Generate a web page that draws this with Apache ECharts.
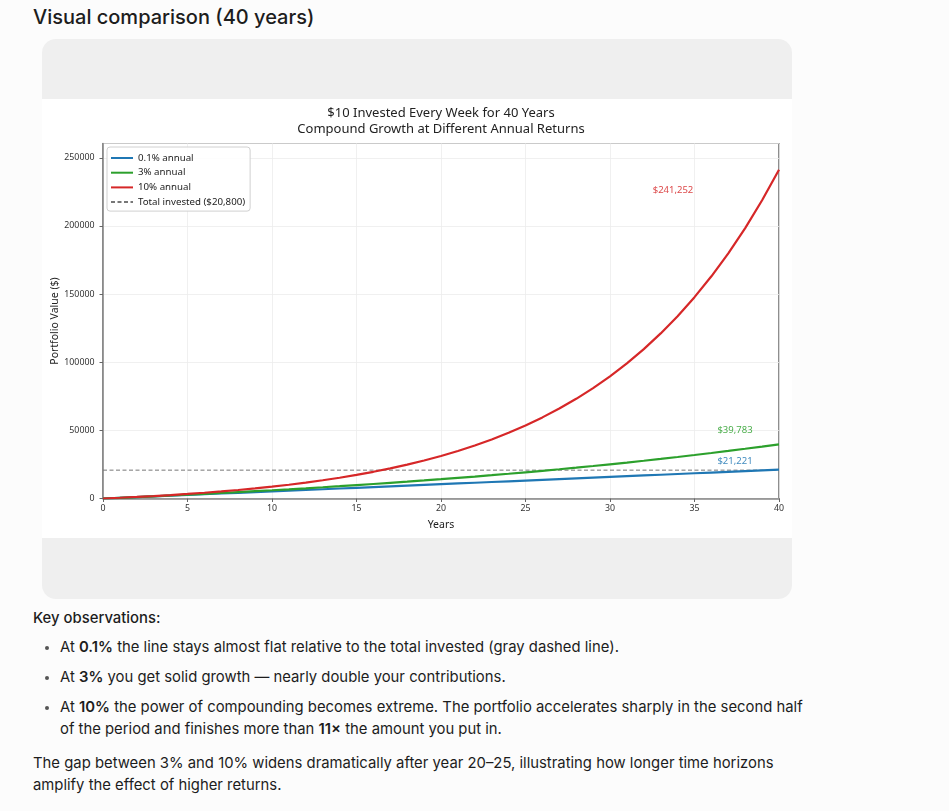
<!DOCTYPE html>
<html>
<head>
<meta charset="utf-8">
<title>Visual comparison (40 years)</title>
<script src="https://cdn.jsdelivr.net/npm/echarts@6/dist/echarts.min.js"></script>
<style>
	html, body { margin: 0; padding: 0; background: #fcfcfc; }
	body { width: 949px; height: 811px; position: relative; font-family: Inter, "Noto Sans", sans-serif; color: #1d1d1d; overflow: hidden; }
	h2 { position: absolute; left: 33px; top: 4px; margin: 0; font-size: 20px; font-weight: 500; line-height: 26px; }
	.card { position: absolute; left: 42px; top: 39px; width: 750px; height: 560px; background: #efefef; border-radius: 14px; }
	#chart { position: absolute; left: 42px; top: 99px; width: 750px; height: 439px; background: #fff; }
	.notes { position: absolute; left: 33px; top: 607px; width: 780px; font-size: 14.85px; line-height: 22px; }
	.notes p { margin: 0; }
	.notes .head { font-weight: 500; }
	.notes ul { margin: 7px 0 0 0; padding: 0 0 0 27px; }
	.notes li { margin: 0 0 8px 0; padding-left: 0; }
	.notes li::marker { color: #555; font-size: 13px; }
	.notes b { font-weight: 600; }
	.notes .tail { margin-top: 12px; }
</style>
</head>
<body>
<h2>Visual comparison (40 years)</h2>
<div class="card"></div>
<div id="chart"></div>
<div class="notes">
	<p class="head">Key observations:</p>
	<ul>
		<li>At <b>0.1%</b> the line stays almost flat relative to the total invested (gray dashed line).</li>
		<li>At <b>3%</b> you get solid growth — nearly double your contributions.</li>
		<li>At <b>10%</b> the power of compounding becomes extreme. The portfolio accelerates sharply in the second half of the period and finishes more than <b>11×</b> the amount you put in.</li>
	</ul>
	<p class="tail">The gap between 3% and 10% widens dramatically after year 20–25, illustrating how longer time horizons amplify the effect of higher returns.</p>
</div>
<script type="text/javascript">
	// years 0..40, portfolio value (end of each year)
	var years = [0, 1, 2, 3, 4, 5, 6, 7, 8, 9, 10, 11, 12, 13, 14, 15, 16, 17, 18, 19, 20,
		21, 22, 23, 24, 25, 26, 27, 28, 29, 30, 31, 32, 33, 34, 35, 36, 37, 38, 39, 40];
	var value01 = [0, 520, 1041, 1562, 2084, 2607, 3129, 3653, 4177, 4701, 5226, 5752, 6277, 6804, 7331, 7859,
		8386, 8915, 9444, 9974, 10504, 11034, 11566, 12098, 12630, 13163, 13696, 14230, 14764, 15299, 15834,
		16370, 16906, 17443, 17981, 18518, 19057, 19596, 20136, 20675, 21221];
	var value3 = [0, 528, 1071, 1631, 2207, 2801, 3413, 4043, 4692, 5360, 6048, 6758, 7488, 8240, 9015, 9813,
		10635, 11482, 12354, 13252, 14177, 15130, 16112, 17122, 18164, 19236, 20341, 21479, 22651, 23858, 25101,
		26382, 27701, 29060, 30459, 31900, 33385, 34914, 36489, 38111, 39783];
	var value10 = [0, 545, 1145, 1804, 2530, 3328, 4206, 5171, 6234, 7402, 8687, 10101, 11656, 13367, 15249, 17319,
		19595, 22100, 24855, 27886, 31219, 34887, 38920, 43357, 48238, 53607, 59513, 66009, 73155, 81016, 89663,
		99173, 109636, 121145, 133805, 147731, 163048, 179898, 198433, 218821, 241252];
	var investedYears = [0, 40];
	var investedValue = [20800, 20800];
	var seriesNames = ['0.1% annual', '3% annual', '10% annual', 'Total invested ($20,800)'];
	var endLabels = ['$21,221', '$39,783', '$241,252'];

	function pairs(xs, ys) {
		var out = [];
		for (var i = 0; i < xs.length; i++) out.push([xs[i], ys[i]]);
		return out;
	}

	var chartFont = '"Noto Sans", "Open Sans", sans-serif';

	function growthSeries(name, values, color, label, offset) {
		return {
			name: name,
			type: 'line',
			data: pairs(years, values),
			symbol: 'none',
			smooth: false,
			lineStyle: { color: color, width: 2.2 },
			itemStyle: { color: color },
			z: 3,
			markPoint: {
				symbol: 'circle',
				symbolSize: 0,
				silent: true,
				data: [{
					coord: [years[years.length - 1], values[values.length - 1]],
					label: {
						show: true,
						formatter: label,
						offset: offset,
						color: color,
						opacity: 0.85,
						fontSize: 9.5,
						fontFamily: chartFont
					}
				}]
			}
		};
	}

	var option = {
		animation: false,
		backgroundColor: '#fff',
		textStyle: { fontFamily: chartFont },
		title: {
			text: '$10 Invested Every Week for 40 Years\nCompound Growth at Different Annual Returns',
			left: 399,
			textAlign: 'center',
			top: 6,
			padding: 0,
			textStyle: { fontSize: 13, fontWeight: 'normal', color: '#222', lineHeight: 16, fontFamily: chartFont }
		},
		legend: {
			data: seriesNames,
			orient: 'vertical',
			left: 65,
			top: 48,
			itemWidth: 22,
			itemHeight: 10,
			itemGap: 4.7,
			padding: [6, 5, 4, 3],
			backgroundColor: 'rgba(255,255,255,0.85)',
			borderColor: '#d0d0d0',
			borderWidth: 1,
			borderRadius: 3,
			itemStyle: { color: 'rgba(0,0,0,0)', borderWidth: 0, opacity: 0 },
			textStyle: { fontSize: 9.7, lineHeight: 10, color: '#222', fontFamily: chartFont }
		},
		grid: {
			left: 61,
			right: 13,
			top: 44.5,
			bottom: 39.5,
			containLabel: false,
			outerBoundsMode: 'none',
			show: true,
			borderColor: '#444',
			borderWidth: 1.2
		},
		xAxis: {
			type: 'value',
			min: 0,
			max: 40,
			interval: 5,
			name: 'Years',
			nameLocation: 'middle',
			nameGap: 21,
			nameMoveOverlap: false,
			nameTextStyle: { fontSize: 10.5, color: '#222' },
			axisLine: { show: true, lineStyle: { color: '#888', width: 1.5 } },
			axisTick: { show: true, length: 3.5, lineStyle: { color: '#666' } },
			axisLabel: { fontSize: 8.8, color: '#333', margin: 5.5 },
			splitLine: { show: true, lineStyle: { color: '#ececec', width: 0.8 } }
		},
		yAxis: {
			type: 'value',
			min: 0,
			max: 260500,
			interval: 50000,
			name: 'Portfolio Value ($)',
			nameLocation: 'middle',
			nameGap: 42,
			nameMoveOverlap: false,
			nameTextStyle: { fontSize: 10.5, color: '#222' },
			axisLine: { show: true, lineStyle: { color: '#888', width: 1.5 } },
			axisTick: { show: true, length: 3.5, lineStyle: { color: '#666' } },
			axisLabel: {
				fontSize: 8.8,
				color: '#333',
				margin: 8.5,
				showMaxLabel: false,
				formatter: function (v) { return v % 50000 === 0 ? String(v) : ''; }
			},
			splitLine: { show: true, lineStyle: { color: '#ececec', width: 0.8 } }
		},
		series: [
			growthSeries(seriesNames[0], value01, '#1f77b4', endLabels[0], [-44, -8.5]),
			growthSeries(seriesNames[1], value3, '#2ca02c', endLabels[1], [-44, -14]),
			growthSeries(seriesNames[2], value10, '#d62728', endLabels[2], [-106, 21]),
			{
				name: seriesNames[3],
				type: 'line',
				data: pairs(investedYears, investedValue),
				symbol: 'none',
				lineStyle: { color: '#777', width: 1, type: [4, 2.5] },
				itemStyle: { color: '#777' },
				z: 2
			}
		]
	};

	var myChart = echarts.init(document.getElementById('chart'));
	myChart.setOption(option);
</script>
</body>
</html>
